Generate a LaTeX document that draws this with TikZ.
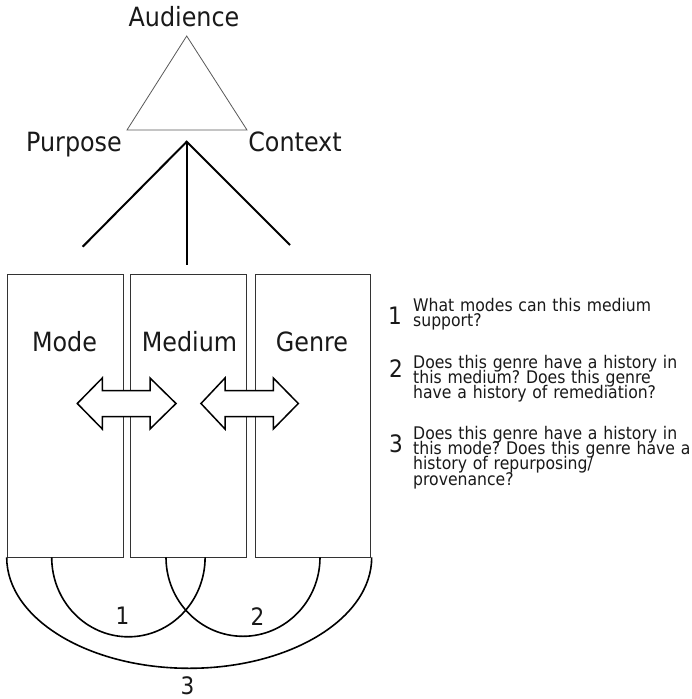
\documentclass[tikz,border=0pt]{standalone}
\usepackage{fontspec}
\setmainfont{DejaVu Sans Condensed}
\newcommand{\myqfont}{\fontsize{17.4}{15.4}\selectfont\frenchspacing\setlength{\lineskiplimit}{-10pt}\setlength{\lineskip}{0pt}}
\begin{document}
\frenchspacing
\begin{tikzpicture}[x=1pt,y=1pt,
  lbl/.style={inner sep=0pt, anchor=base, text=black!90, font=\fontsize{26.5}{30}\selectfont},
  numlbl/.style={inner sep=0pt, anchor=base, text=black!90, font=\fontsize{24}{26}\selectfont},
  qtext/.style={inner sep=0pt, anchor=base west, text width=300pt, align=left, text=black!90, font=\myqfont},
  colbox/.style={draw=black!80, line width=0.9pt, fill=white, minimum width=116pt, minimum height=283pt, inner sep=0pt},
  treeline/.style={draw=black, line width=2pt},
  tri/.style={draw=black!65, line width=0.8pt},
  dbl/.style={draw=black, line width=1.5pt, fill=white, line join=miter},
  arcline/.style={draw=black, line width=1.6pt}
]
\useasboundingbox (0,0) rectangle (691,-699);
\fill[white] (0,0) rectangle (691,-699);

% triangle
\coordinate (apex) at (186.7,-36);
\coordinate (bl) at (127,-130);
\coordinate (br) at (247,-130);
\draw[tri] (apex) -- (bl) -- (br) -- cycle;
\node[lbl] (aud) at (184,-26.7) {Audience};
\node[lbl] (pur) at (74,-151) {Purpose};
\node[lbl] (con) at (295,-151) {Context};

% tree
\coordinate (j) at (186.7,-141.7);
\coordinate (tl) at (82.7,-246.7);
\coordinate (tm) at (186.7,-265);
\coordinate (tr) at (290,-245);
\draw[treeline] (tl) -- (j) -- (tr);
\draw[treeline] (j) -- (tm);

% boxes
\node[colbox] (mode) at (65.3,-415.65) {};
\node[colbox] (medium) at (188.7,-415.65) {};
\node[colbox, minimum width=115.7pt] (genre) at (312.85,-415.65) {};
\node[lbl] (modet) at (64.5,-351.7) {Mode};
\node[lbl] (mediumt) at (189.5,-351.7) {Medium};
\node[lbl] (genret) at (312,-351.7) {Genre};

% double arrows
\draw[dbl] (77.3,-403.5) -- (102.3,-378) -- (102.3,-390.5) -- (150,-390.5) -- (150,-378)
  -- (176,-403.5) -- (150,-429) -- (150,-416.5) -- (102.3,-416.5) -- (102.3,-429) -- cycle;
\draw[dbl] (201,-403.5) -- (225,-378) -- (225,-390.5) -- (273.3,-390.5) -- (273.3,-378)
  -- (298.3,-403.5) -- (273.3,-429) -- (273.3,-416.5) -- (225,-416.5) -- (225,-429) -- cycle;

% arcs
\coordinate (a1) at (51.7,-557.3);
\coordinate (a2) at (166,-557.3);
\coordinate (a3) at (6.7,-557.3);
\draw[arcline] (a1) arc[start angle=180, end angle=360, x radius=76.7pt, y radius=79.5pt];
\draw[arcline] (a2) arc[start angle=180, end angle=360, x radius=77pt, y radius=79pt];
\draw[arcline] (a3) arc[start angle=180, end angle=360, x radius=182.5pt, y radius=111pt];
\node[numlbl] (n1) at (122.5,-624) {1};
\node[numlbl] (n2) at (257.5,-625) {2};
\node[numlbl] (n3) at (187.5,-694) {3};

% questions
\node[numlbl] (q1n) at (395,-324) {1};
\node[qtext] (q1) at (413,-311) {What modes can this medium\\support?};
\node[numlbl] (q2n) at (396,-377) {2};
\node[qtext] (q2) at (413,-368) {Does this genre have a history in\\this medium? Does this genre\\have a history of remediation?};
\node[numlbl] (q3n) at (396,-452) {3};
\node[qtext] (q3) at (413,-439) {Does this genre have a history in\\this mode? Does this genre have a\\history of repurposing/\\provenance?};
\end{tikzpicture}
\end{document}
